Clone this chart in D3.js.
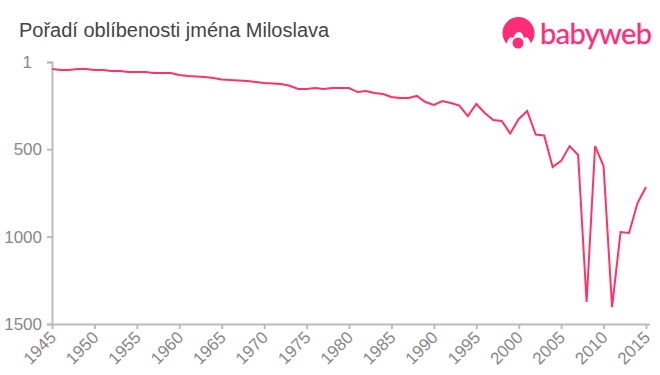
<!DOCTYPE html>
<html>
<head>
<meta charset="utf-8">
<script src="https://cdn.jsdelivr.net/npm/d3@7"></script>
<style>
    html, body { margin: 0; padding: 0; background: #fff; }
    text { font-family: "Liberation Sans", Arial, sans-serif; }
</style>
</head>
<body>
<div class="holder"></div>
<script>
"use strict";

const years = d3.range(1945, 2016);
const ranks = [
    41, 47, 47, 41, 41, 47, 47, 52, 52, 58,
    58, 58, 64, 64, 64, 75, 81, 84, 87, 93,
    101, 104, 107, 110, 115, 121, 124, 127, 137, 155,
    155, 150, 155, 150, 150, 150, 173, 167, 178, 184,
    201, 207, 207, 195, 230, 247, 224, 236, 250, 310,
    241, 293, 333, 338, 410, 327, 281, 416, 421, 602,
    567, 482, 533, 1374, 482, 596, 1403, 974, 979, 808,
    716
];
const xTicks = d3.range(1945, 2016, 5);
const yTicks = [1, 500, 1000, 1500];
const title = "Pořadí oblíbenosti jména Miloslava";

let w = 660,
    h = 375;

let canvas = d3.select(".holder")
    .append("svg")
    .attr("width", w)
    .attr("height", h)
    .style("display", "block");

// axis line runs a little past the last year
let x = d3.scaleLinear().domain([1945, 2015.4]).range([52, 649.4]);
let y = d3.scaleLinear().domain([1, 1500]).range([62, 324]);

canvas.append("text")
    .attr("x", 19)
    .attr("y", 37)
    .attr("font-size", 20)
    .attr("fill", "#444")
    .text(title);

// axes
let xAxis = d3.axisBottom(x)
    .tickValues(xTicks)
    .tickFormat(d3.format("d"))
    .tickSize(5)
    .tickSizeOuter(0);

let xGroup = canvas.append("g")
    .attr("transform", "translate(0,324)")
    .call(xAxis);

xGroup.selectAll("text")
    .attr("font-size", 17)
    .attr("font-family", "Liberation Sans")
    .attr("fill", "#888")
    .attr("text-anchor", "end")
    .attr("dx", 0)
    .attr("dy", 0)
    .attr("transform", "translate(-1,9) rotate(-45)");

let yAxis = d3.axisLeft(y)
    .tickValues(yTicks)
    .tickFormat(d3.format("d"))
    .tickSize(5)
    .tickPadding(5);

let yGroup = canvas.append("g")
    .attr("transform", "translate(52,0)")
    .call(yAxis);

yGroup.selectAll("text")
    .attr("font-size", 17)
    .attr("font-family", "Liberation Sans")
    .attr("fill", "#888")
    .attr("dx", function(d) { return d === 1 ? -10 : 0; });

canvas.selectAll(".domain, .tick line")
    .attr("stroke", "#bbb")
    .attr("stroke-width", 2);

// line
let line = d3.line()
    .x(function(d, i) { return x(years[i]); })
    .y(function(d) { return y(d); });

canvas.append("path")
    .datum(ranks)
    .attr("d", line)
    .attr("fill", "none")
    .attr("stroke", "#ff3366")
    .attr("stroke-width", 2);

// logo
let logo = canvas.append("g").attr("fill", "#ff2d78");

logo.append("circle").attr("cx", 518.5).attr("cy", 33).attr("r", 16);
logo.append("path")
    .attr("d", "M 506 45 Q 509 35 513 38 Q 516 31 519 32 Q 522 31 524 38 Q 529 35 531 45 Q 531 53 518 53 Q 505 53 506 45 Z")
    .attr("fill", "#fff");
logo.append("circle").attr("cx", 518).attr("cy", 43).attr("r", 5.5);

logo.append("text")
    .attr("x", 540)
    .attr("y", 44)
    .attr("font-size", 29)
    .attr("stroke", "#ff2d78")
    .attr("stroke-width", 0.3)
    .style("font-family", "Lato, sans-serif")
    .attr("textLength", 112)
    .text("babyweb");
</script>
</body>
</html>
